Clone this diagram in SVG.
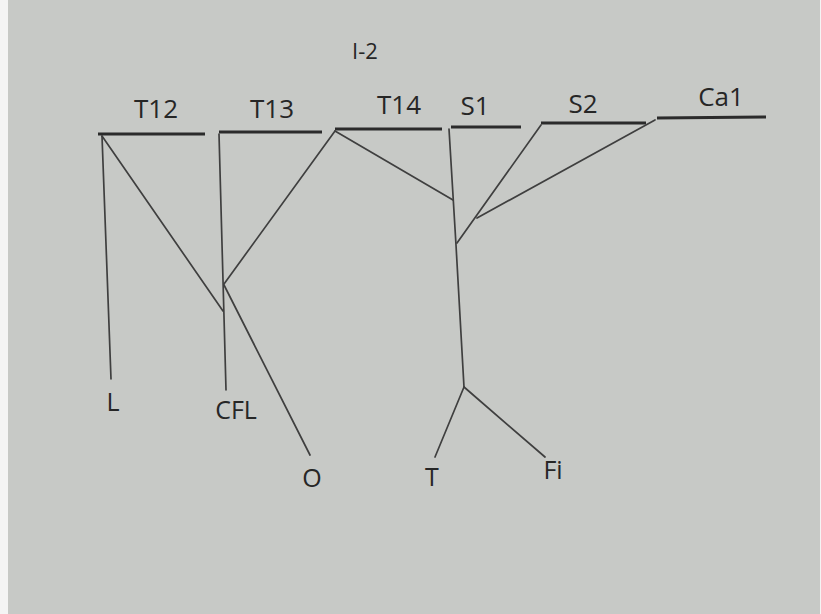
<svg xmlns="http://www.w3.org/2000/svg" width="821" height="614" viewBox="0 0 821 614">
  <style>
    .bar { stroke: #2b2b2b; stroke-width: 3; stroke-linecap: butt; fill: none; }
    .link { stroke: #3f3f3f; stroke-width: 1.7; fill: none; stroke-linecap: round; stroke-linejoin: round; }
    .lbl { font-family: "Open Sans", "Noto Sans", sans-serif; fill: #262626; }
    .title { font-size: 22px; }
    .top { font-size: 26px; }
    .leaf { font-size: 25px; }
  </style>

  <!-- paper -->
  <rect x="0" y="0" width="821" height="614" fill="#f4f4f4"/>
  <rect x="8" y="0" width="812" height="614" fill="#c7c9c6"/>

  <!-- title -->
  <text class="lbl title" x="365" y="59" text-anchor="middle">I-2</text>

  <!-- segment bars -->
  <g id="T12">
    <line class="bar" x1="98" y1="134" x2="205" y2="134"/>
    <text class="lbl top" x="156" y="118" text-anchor="middle">T12</text>
  </g>
  <g id="T13">
    <line class="bar" x1="219" y1="132" x2="322" y2="132"/>
    <text class="lbl top" x="272" y="118" text-anchor="middle">T13</text>
  </g>
  <g id="T14">
    <line class="bar" x1="335" y1="129" x2="442" y2="129"/>
    <text class="lbl top" x="399" y="114" text-anchor="middle">T14</text>
  </g>
  <g id="S1">
    <line class="bar" x1="451" y1="127" x2="521" y2="127"/>
    <text class="lbl top" x="475" y="115" text-anchor="middle">S1</text>
  </g>
  <g id="S2">
    <line class="bar" x1="541" y1="123" x2="646" y2="123"/>
    <text class="lbl top" x="583" y="113" text-anchor="middle">S2</text>
  </g>
  <g id="Ca1">
    <line class="bar" x1="657" y1="118" x2="766" y2="117"/>
    <text class="lbl top" x="721" y="106" text-anchor="middle">Ca1</text>
  </g>

  <!-- terminal labels -->
  <g id="L"><text class="lbl leaf" x="113" y="411" text-anchor="middle">L</text></g>
  <g id="CFL"><text class="lbl leaf" x="236" y="419" text-anchor="middle">CFL</text></g>
  <g id="O"><text class="lbl leaf" x="312" y="487" text-anchor="middle">O</text></g>
  <g id="T"><text class="lbl leaf" x="432" y="486" text-anchor="middle">T</text></g>
  <g id="Fi"><text class="lbl leaf" x="553" y="479" text-anchor="middle">Fi</text></g>

  <!-- nerve branches -->
  <g id="connectors">
    <line class="link" x1="102" y1="136" x2="111" y2="379"/>
    <line class="link" x1="102" y1="136" x2="223" y2="311"/>
    <line class="link" x1="219" y1="134" x2="226" y2="390"/>
    <line class="link" x1="335" y1="131" x2="224" y2="284"/>
    <line class="link" x1="224" y1="285" x2="310" y2="455"/>
    <line class="link" x1="335" y1="131" x2="453" y2="200"/>
    <polyline class="link" points="449,129 456,245 464,387"/>
    <line class="link" x1="541" y1="125" x2="457" y2="243"/>
    <line class="link" x1="655" y1="120" x2="477" y2="218"/>
    <line class="link" x1="464" y1="387" x2="435" y2="457"/>
    <line class="link" x1="464" y1="387" x2="545" y2="457"/>
  </g>
</svg>
